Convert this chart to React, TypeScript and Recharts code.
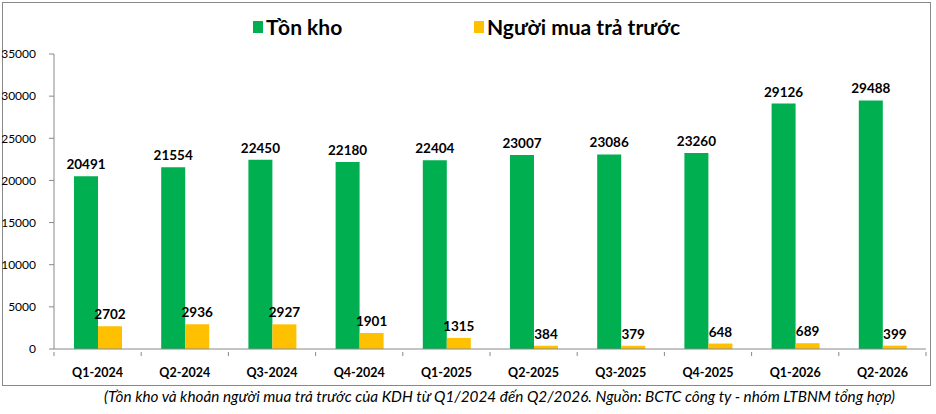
import { BarChart, Bar, XAxis, YAxis } from 'recharts';

const quarters = ['Q1-2024', 'Q2-2024', 'Q3-2024', 'Q4-2024', 'Q1-2025', 'Q2-2025', 'Q3-2025', 'Q4-2025', 'Q1-2026', 'Q2-2026'];
const tonKho = [20491, 21554, 22450, 22180, 22404, 23007, 23086, 23260, 29126, 29488];
const nguoiMua = [2702, 2936, 2927, 1901, 1315, 384, 379, 648, 689, 399];
const yTicks = [0, 5000, 10000, 15000, 20000, 25000, 30000, 35000];

const data = quarters.map((q, i) => ({ name: q, tonKho: tonKho[i], nguoiMua: nguoiMua[i] }));

const FONT = 'Lato, "Open Sans", sans-serif';
const W = 936;
const H = 414;
const M = { top: 54, right: 10, bottom: 35, left: 4 };
const Y_W = 50;
const BAND = (W - M.left - M.right - Y_W) / quarters.length;

const XTick = (props: any) => {
  const { x, y, payload, index } = props;
  const last = index === quarters.length - 1;
  return (
    <g>
      <line x1={x - BAND / 2} x2={x - BAND / 2} y1={y - 5} y2={y - 1} stroke="#888" />
      {last && <line x1={x + BAND / 2} x2={x + BAND / 2} y1={y - 5} y2={y - 1} stroke="#888" />}
      <text x={x} y={y + 20} textAnchor="middle" fontFamily={FONT} fontWeight="bold" fontSize={12.5} fill="#000">
        {payload.value}
      </text>
    </g>
  );
};

const labelStyle = { position: 'top' as const, offset: 7, fill: '#000', fontSize: 13.5, fontWeight: 'bold', fontFamily: FONT };

export default function App() {
  return (
    <div style={{ position: 'absolute', left: 0, top: 0, width: W, height: H, background: '#fff' }}>
      <div style={{ position: 'absolute', left: 2, top: 2, width: 927, height: 382, border: '1px solid #888' }} />
      <div style={{ position: 'absolute', left: 0, top: 15, width: W, height: 30, fontFamily: FONT, fontWeight: 'bold', fontSize: 21, color: '#000' }}>
        <span style={{ position: 'absolute', left: 253, top: 6, width: 10, height: 12, background: '#00B050' }} />
        <span style={{ position: 'absolute', left: 266, top: -1 }}>Tồn kho</span>
        <span style={{ position: 'absolute', left: 474, top: 6, width: 10, height: 12, background: '#FFC000' }} />
        <span style={{ position: 'absolute', left: 487, top: -1 }}>Người mua trả trước</span>
      </div>
      <div style={{ position: 'absolute', left: 0, top: 0 }}>
        <BarChart width={W} height={H} data={data} margin={M} barGap={0} barSize={24}>
          <XAxis
            dataKey="name"
            axisLine={{ stroke: '#888' }}
            tickLine={false}
            tick={<XTick />}
            height={30}
            interval={0}
          />
          <YAxis
            width={Y_W}
            domain={[0, 35000]}
            ticks={yTicks}
            axisLine={{ stroke: '#888' }}
            tickLine={{ stroke: '#888' }}
            tickSize={5}
            tickMargin={13}
            tick={{ fontFamily: FONT, fontSize: 12, fill: '#000' }}
          />
          <Bar dataKey="tonKho" name="Tồn kho" fill="#00B050" isAnimationActive={false} label={labelStyle} />
          <Bar dataKey="nguoiMua" name="Người mua trả trước" fill="#FFC000" isAnimationActive={false} label={labelStyle} />
        </BarChart>
      </div>
      <div
        style={{
          position: 'absolute',
          left: 104,
          top: 387,
          fontFamily: FONT,
          fontStyle: 'italic',
          fontSize: 15.3,
          color: '#000',
          whiteSpace: 'nowrap',
        }}
      >
        (Tồn kho và khoản người mua trả trước của KDH từ Q1/2024 đến Q2/2026. Nguồn: BCTC công ty - nhóm LTBNM tổng hợp)
      </div>
    </div>
  );
}
